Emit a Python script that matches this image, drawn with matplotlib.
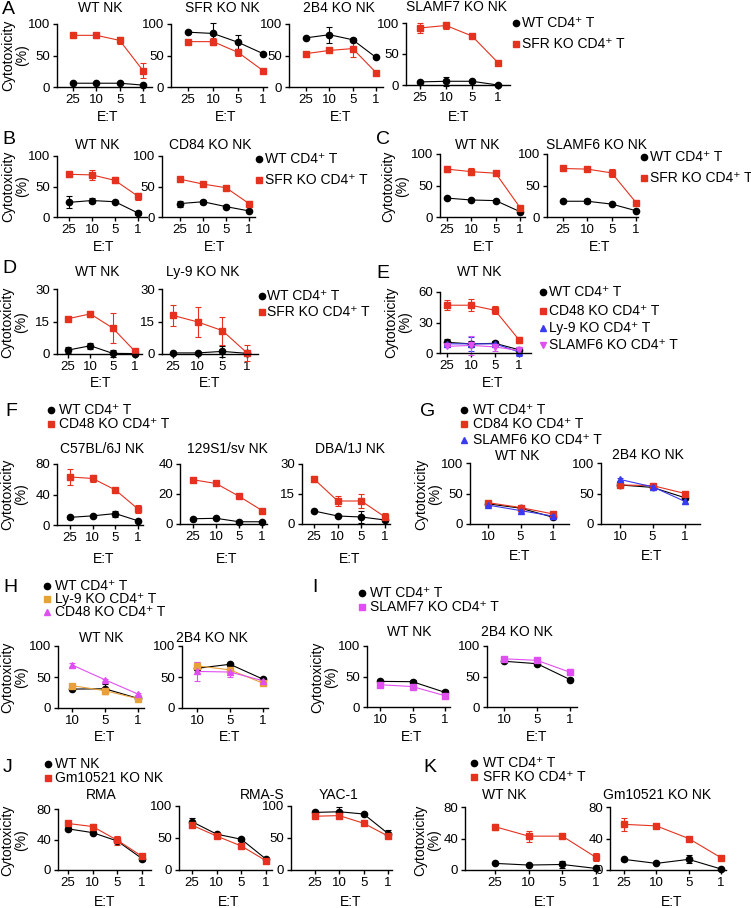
import matplotlib
matplotlib.use('Agg')
import matplotlib.pyplot as plt
from matplotlib.lines import Line2D

plt.rcParams['font.family'] = ['Liberation Sans', 'DejaVu Sans']

W, H = 751, 908

# E:T ratios
et4 = ['25', '10', '5', '1']
et3 = ['10', '5', '1']

# A
a_wt_wt, a_wt_wt_e = [6, 6, 6, 3], [1, 1, 1, 1]
a_wt_sfr, a_wt_sfr_e = [82, 82, 74, 26], [2, 4, 6, 12]
a_sfr_wt, a_sfr_wt_e = [87, 85, 71, 53], [1, 17, 11, 1]
a_sfr_sfr, a_sfr_sfr_e = [72, 72, 55, 26], [2, 5, 6, 1]
a_2b4_wt, a_2b4_wt_e = [78, 83, 75, 47], [1, 13, 2, 1]
a_2b4_sfr, a_2b4_sfr_e = [53, 58, 61, 23], [2, 2, 14, 1]
a_f7_wt, a_f7_wt_e = [5, 6, 6, 0], [2, 7, 2, 1]
a_f7_sfr, a_f7_sfr_e = [92, 96, 79, 36], [8, 6, 2, 2]
# B
b_wt_wt, b_wt_wt_e = [24, 27, 25, 6.5], [10, 4, 1.5, 4]
b_wt_sfr, b_wt_sfr_e = [70, 69, 60, 34], [4, 8, 5, 6]
b_84_wt, b_84_wt_e = [22, 25, 17, 10], [5, 3, 2, 1]
b_84_sfr, b_84_sfr_e = [62, 54, 48, 22], [2, 2, 2, 4]
# C
c_wt_wt, c_wt_wt_e = [30, 27, 26, 8.5], [1, 1, 1, 1]
c_wt_sfr, c_wt_sfr_e = [76, 72, 69.5, 15], [5, 5, 2, 3]
c_f6_wt, c_f6_wt_e = [25, 25, 20.5, 10], [1, 3, 1, 1]
c_f6_sfr, c_f6_sfr_e = [77, 76, 70, 23], [2, 2, 6, 3]
# D
d_wt_wt, d_wt_wt_e = [1.8, 3.8, 0.3, 0.2], [1.5, 1.5, 1.5, 0.3]
d_wt_sfr, d_wt_sfr_e = [16.3, 18.5, 12, 1.2], [0.5, 1.5, 7, 1]
d_ly9_wt, d_ly9_wt_e = [0.5, 0.5, 1.2, 0.3], [0.5, 0.5, 2.5, 0.3]
d_ly9_sfr, d_ly9_sfr_e = [17.8, 14.8, 10.8, 0.5], [5, 7, 6.5, 3.5]
# E
e_wt, e_wt_e = [10.5, 9, 9.5, 3.2], [3, 3, 2, 1]
e_cd48, e_cd48_e = [47, 47, 42, 13], [5, 6, 4, 3]
e_ly9, e_ly9_e = [9, 9, 9, 1], [1, 7, 1, 4]
e_f6, e_f6_e = [6.5, 7.5, 6, 2.5], [1, 9, 4, 1]
# F
f_c57_wt, f_c57_wt_e = [10, 12, 15, 5.5], [2, 1, 4, 1]
f_c57_cd48, f_c57_cd48_e = [63, 61, 46, 21], [11, 5, 2, 5]
f_129_wt, f_129_wt_e = [3.5, 3.8, 1.5, 1.5], [0.5, 0.5, 0.5, 0.5]
f_129_cd48, f_129_cd48_e = [29.5, 27, 18.5, 9], [0.5, 0.5, 0.5, 0.7]
f_dba_wt, f_dba_wt_e = [6.5, 4, 3.5, 2], [0.3, 0.5, 3, 0.5]
f_dba_cd48, f_dba_cd48_e = [22.5, 11.5, 11.5, 3.5], [1.5, 2.5, 3.5, 2]
# G
g_wt_wt, g_wt_wt_e = [33, 26, 11], [2, 2, 2]
g_wt_84, g_wt_84_e = [35, 27, 16.5], [2, 2, 2]
g_wt_f6, g_wt_f6_e = [31, 22, 13], [2, 2, 2]
g_2b4_wt, g_2b4_wt_e = [64, 60, 43], [2, 2, 2]
g_2b4_84, g_2b4_84_e = [64, 63, 50], [2, 2, 2]
g_2b4_f6, g_2b4_f6_e = [73, 61, 37], [2, 2, 4]
# H
h_wt_wt, h_wt_wt_e = [30.5, 31, 15.5], [2, 8, 2]
h_wt_ly9, h_wt_ly9_e = [36, 28, 15], [3, 5, 2]
h_wt_cd48, h_wt_cd48_e = [69.5, 45.5, 22.5], [3, 2, 2]
h_2b4_wt, h_2b4_wt_e = [64, 70.5, 46.5], [3, 2, 2]
h_2b4_ly9, h_2b4_ly9_e = [68, 61.5, 40], [7, 2, 2]
h_2b4_cd48, h_2b4_cd48_e = [59, 58, 44], [15, 8, 2]
# I
i_wt_wt, i_wt_wt_e = [42, 41.5, 24], [2, 2, 4]
i_wt_f7, i_wt_f7_e = [36.5, 33.5, 18.5], [1, 1, 2]
i_2b4_wt, i_2b4_wt_e = [75, 71, 45], [2, 2, 2]
i_2b4_f7, i_2b4_f7_e = [79, 76.5, 57], [2, 2, 5]
# J
j_rma_wt, j_rma_wt_e = [54, 49, 38, 15], [2, 2, 3, 3]
j_rma_ko, j_rma_ko_e = [61, 57, 39, 18], [3, 3, 6, 2]
j_rmas_wt, j_rmas_wt_e = [75.5, 56, 48, 17], [5, 2, 2, 2]
j_rmas_ko, j_rmas_ko_e = [70, 53, 37.5, 14.5], [2, 2, 2, 2]
j_yac_wt, j_yac_wt_e = [90, 91, 87.5, 57], [2, 7, 2, 5]
j_yac_ko, j_yac_ko_e = [84, 85, 73, 53], [2, 2, 2, 3]
# K
k_wt_wt, k_wt_wt_e = [8.4, 6.3, 7, 2], [1, 1, 5, 1]
k_wt_sfr, k_wt_sfr_e = [55, 43, 43, 16], [4, 7, 1, 5]
k_gm_wt, k_gm_wt_e = [13.5, 8.4, 13.5, 1.3], [2, 1, 5, 1]
k_gm_sfr, k_gm_sfr_e = [58, 56, 40, 15.6], [8, 2, 2, 2]

BLK = '#000000'
RED = '#e4321f'
BLUE = '#3a3af0'
MAG = '#e04ff0'
ORG = '#e8a03a'

fig = plt.figure(figsize=(W / 100, H / 100), dpi=100)
FS = 9.5


def fx(x):
    return x / W


def fy(y):
    return 1 - y / H


def panel(geom, cats, ymax, yticks, series, title, tpos):
    left, right, top, bottom, p0, pn = geom
    n = len(cats)
    ax = fig.add_axes([fx(left), fy(bottom), (right - left) / W, (bottom - top) / H])
    unit = (pn - p0) / (n - 1)
    ax.set_xlim(-(p0 - left) / unit, (n - 1) + (right - pn) / unit)
    ax.set_ylim(0, ymax)
    ax.set_yticks(yticks)
    ax.set_xticks(range(n))
    ax.set_xticklabels(cats)
    for s in ['top', 'right']:
        ax.spines[s].set_visible(False)
    for s in ['left', 'bottom']:
        ax.spines[s].set_linewidth(1.0)
    ax.tick_params(direction='out', length=3, width=1, labelsize=FS, pad=2)
    for vals, errs, color, marker in series:
        ax.errorbar(range(n), vals, yerr=errs, color=color, marker=marker, ms=4.5,
                    lw=0.8, elinewidth=0.8, capsize=2, capthick=0.8, clip_on=False)
    fig.text(fx(tpos[0]), fy(tpos[1]), title, ha='center', va='center', fontsize=FS + 0.5)
    return ax


def xlabel(x, y):
    fig.text(fx(x), fy(y), 'E:T', ha='center', va='center', fontsize=FS + 0.5)


def ylabel(x, y):
    fig.text(fx(x), fy(y), 'Cytotoxicity\n(%)', ha='center', va='center',
             rotation=90, fontsize=FS + 0.5, linespacing=0.95)


def letter(s, x, y):
    fig.text(fx(x), fy(y), s, ha='left', va='center', fontsize=14)


def legend(items, mx, ys, tx, fs=FS + 0.5):
    for (label, color, marker), y in zip(items, ys):
        fig.add_artist(Line2D([fx(mx)], [fy(y)], marker=marker, color=color, ms=4.5,
                              linestyle='none', transform=fig.transFigure))
        fig.text(fx(tx), fy(y), label, ha='left', va='center', fontsize=fs)


wt_t = 'WT CD4⁺ T'
sfr_t = 'SFR KO CD4⁺ T'

# ---- A
letter('A', 2, 10)
ylabel(15, 55)
panel((57, 152, 24, 87, 73, 143), et4, 100, [0, 50, 100],
      [(a_wt_wt, a_wt_wt_e, BLK, 'o'), (a_wt_sfr, a_wt_sfr_e, RED, 's')], 'WT NK', (100, 8))
panel((171, 267, 24, 87, 188, 263), et4, 100, [0, 50, 100],
      [(a_sfr_wt, a_sfr_wt_e, BLK, 'o'), (a_sfr_sfr, a_sfr_sfr_e, RED, 's')], 'SFR KO NK', (222, 8))
panel((289, 383, 24, 87, 306, 376), et4, 100, [0, 50, 100],
      [(a_2b4_wt, a_2b4_wt_e, BLK, 'o'), (a_2b4_sfr, a_2b4_sfr_e, RED, 's')], '2B4 KO NK', (339, 8))
panel((406, 510, 23, 85, 420, 498), et4, 100, [0, 50, 100],
      [(a_f7_wt, a_f7_wt_e, BLK, 'o'), (a_f7_sfr, a_f7_sfr_e, RED, 's')], 'SLAMF7 KO NK', (456, 7))
for x in [108, 226, 341, 459]:
    xlabel(x, 117)
legend([(wt_t, BLK, 'o'), (sfr_t, RED, 's')], 516, [23, 44], 522)

# ---- B
letter('B', 2, 140)
ylabel(15, 186)
panel((57, 147, 156, 217, 69, 138), et4, 100, [0, 50, 100],
      [(b_wt_wt, b_wt_wt_e, BLK, 'o'), (b_wt_sfr, b_wt_sfr_e, RED, 's')], 'WT NK', (97, 145))
panel((162, 255, 156, 217, 180, 249), et4, 100, [0, 50, 100],
      [(b_84_wt, b_84_wt_e, BLK, 'o'), (b_84_sfr, b_84_sfr_e, RED, 's')], 'CD84 KO NK', (210, 145))
xlabel(104, 247)
xlabel(215, 247)
legend([(wt_t, BLK, 'o'), (sfr_t, RED, 's')], 259, [159, 180], 265)

# ---- C
letter('C', 376, 140)
ylabel(395, 186)
panel((440, 525, 154, 217, 447, 520), et4, 100, [0, 50, 100],
      [(c_wt_wt, c_wt_wt_e, BLK, 'o'), (c_wt_sfr, c_wt_sfr_e, RED, 's')], 'WT NK', (477, 145))
panel((547, 638, 154, 217, 563, 636), et4, 100, [0, 50, 100],
      [(c_f6_wt, c_f6_wt_e, BLK, 'o'), (c_f6_sfr, c_f6_sfr_e, RED, 's')], 'SLAMF6 KO NK', (597, 145))
xlabel(484, 247)
xlabel(600, 247)
legend([(wt_t, BLK, 'o'), (sfr_t, RED, 's')], 644, [157, 178], 650)

# ---- D
letter('D', 2, 268)
ylabel(14, 322)
panel((57, 142, 289, 354, 68, 135), et4, 30, [0, 15, 30],
      [(d_wt_wt, d_wt_wt_e, BLK, 'o'), (d_wt_sfr, d_wt_sfr_e, RED, 's')], 'WT NK', (97, 272))
panel((162, 258, 289, 354, 173, 247), et4, 30, [0, 15, 30],
      [(d_ly9_wt, d_ly9_wt_e, BLK, 'o'), (d_ly9_sfr, d_ly9_sfr_e, RED, 's')], 'Ly-9 KO NK', (203, 272))
xlabel(101, 383)
xlabel(210, 383)
legend([(wt_t, BLK, 'o'), (sfr_t, RED, 's')], 262, [296, 312], 267)

# ---- E
letter('E', 376, 273)
ylabel(398, 322)
panel((440, 531, 292, 353, 447, 519), et4, 60, [0, 30, 60],
      [(e_wt, e_wt_e, BLK, 'o'), (e_cd48, e_cd48_e, RED, 's'),
       (e_ly9, e_ly9_e, BLUE, '^'), (e_f6, e_f6_e, MAG, 'v')], 'WT NK', (479, 272))
xlabel(493, 383)
legend([(wt_t, BLK, 'o'), ('CD48 KO CD4⁺ T', RED, 's'), ('Ly-9 KO CD4⁺ T', BLUE, '^'),
        ('SLAMF6 KO CD4⁺ T', MAG, 'v')], 543, [292, 311, 328, 345], 549)

# ---- F
letter('F', 5, 412)
ylabel(14, 494)
panel((57, 143, 464, 525, 70, 138), et4, 80, [0, 40, 80],
      [(f_c57_wt, f_c57_wt_e, BLK, 'o'), (f_c57_cd48, f_c57_cd48_e, RED, 's')], 'C57BL/6J NK', (102, 449))
panel((180, 267, 464, 524, 193, 262), et4, 40, [0, 20, 40],
      [(f_129_wt, f_129_wt_e, BLK, 'o'), (f_129_cd48, f_129_cd48_e, RED, 's')], '129S1/sv NK', (227, 449))
panel((302, 390, 464, 524, 314, 385), et4, 30, [0, 15, 30],
      [(f_dba_wt, f_dba_wt_e, BLK, 'o'), (f_dba_cd48, f_dba_cd48_e, RED, 's')], 'DBA/1J NK', (350, 449))
for x in [104, 227, 350]:
    xlabel(x, 559)
legend([(wt_t, BLK, 'o'), ('CD48 KO CD4⁺ T', RED, 's')], 51, [410, 424], 59)

# ---- G
letter('G', 420, 412)
ylabel(428, 494)
panel((470, 569, 463, 524, 488, 553), et3, 100, [0, 50, 100],
      [(g_wt_wt, g_wt_wt_e, BLK, 'o'), (g_wt_84, g_wt_84_e, RED, 's'),
       (g_wt_f6, g_wt_f6_e, BLUE, '^')], 'WT NK', (517, 456))
panel((601, 700, 463, 524, 620, 685), et3, 100, [0, 50, 100],
      [(g_2b4_wt, g_2b4_wt_e, BLK, 'o'), (g_2b4_84, g_2b4_84_e, RED, 's'),
       (g_2b4_f6, g_2b4_f6_e, BLUE, '^')], '2B4 KO NK', (648, 455))
xlabel(520, 556)
xlabel(652, 556)
legend([(wt_t, BLK, 'o'), ('CD84 KO CD4⁺ T', RED, 's'), ('SLAMF6 KO CD4⁺ T', BLUE, '^')],
       464, [410, 424, 440], 473)

# ---- H
letter('H', 3, 588)
ylabel(14, 677)
panel((58, 144, 646, 708, 72, 138), et3, 100, [0, 50, 100],
      [(h_wt_wt, h_wt_wt_e, BLK, 'o'), (h_wt_ly9, h_wt_ly9_e, ORG, 's'),
       (h_wt_cd48, h_wt_cd48_e, MAG, '^')], 'WT NK', (101, 638))
panel((182, 268, 646, 708, 197, 263), et3, 100, [0, 50, 100],
      [(h_2b4_wt, h_2b4_wt_e, BLK, 'o'), (h_2b4_ly9, h_2b4_ly9_e, ORG, 's'),
       (h_2b4_cd48, h_2b4_cd48_e, MAG, '^')], '2B4 KO NK', (212, 638))
xlabel(105, 737)
xlabel(230, 737)
legend([(wt_t, BLK, 'o'), ('Ly-9 KO CD4⁺ T', ORG, 's'), ('CD48 KO CD4⁺ T', MAG, '^')],
       47, [586, 599, 612], 55)

# ---- I
letter('I', 312, 588)
ylabel(324, 677)
panel((367, 450, 646, 707, 380, 445), et3, 100, [0, 50, 100],
      [(i_wt_wt, i_wt_wt_e, BLK, 'o'), (i_wt_f7, i_wt_f7_e, MAG, 's')], 'WT NK', (409, 632))
panel((487, 577, 646, 707, 504, 570), et3, 100, [0, 50, 100],
      [(i_2b4_wt, i_2b4_wt_e, BLK, 'o'), (i_2b4_f7, i_2b4_f7_e, MAG, 's')], '2B4 KO NK', (517, 632))
xlabel(412, 737)
xlabel(537, 737)
legend([(wt_t, BLK, 'o'), ('SLAMF7 KO CD4⁺ T', MAG, 's')], 362, [593, 607], 370)

# ---- J
letter('J', 3, 767)
ylabel(14, 840)
panel((58, 151, 809, 870, 68, 142), et4, 80, [0, 40, 80],
      [(j_rma_wt, j_rma_wt_e, BLK, 'o'), (j_rma_ko, j_rma_ko_e, RED, 's')], 'RMA', (101, 795))
panel((179, 272, 806, 870, 192, 266), et4, 100, [0, 50, 100],
      [(j_rmas_wt, j_rmas_wt_e, BLK, 'o'), (j_rmas_ko, j_rmas_ko_e, RED, 's')], 'RMA-S', (262, 795))
panel((291, 392, 806, 870, 315, 388), et4, 100, [0, 50, 100],
      [(j_yac_wt, j_yac_wt_e, BLK, 'o'), (j_yac_ko, j_yac_ko_e, RED, 's')], 'YAC-1', (339, 795))
for x in [105, 229, 351]:
    xlabel(x, 902)
legend([('WT NK', BLK, 'o'), ('Gm10521 KO NK', RED, 's')], 48, [764, 778], 55)

# ---- K
letter('K', 423, 767)
ylabel(427, 840)
panel((465, 600, 807, 870, 495, 596), et4, 80, [0, 40, 80],
      [(k_wt_wt, k_wt_wt_e, BLK, 'o'), (k_wt_sfr, k_wt_sfr_e, RED, 's')], 'WT NK', (504, 795))
panel((610, 726, 807, 870, 624, 721), et4, 80, [0, 40, 80],
      [(k_gm_wt, k_gm_wt_e, BLK, 'o'), (k_gm_sfr, k_gm_sfr_e, RED, 's')], 'Gm10521 KO NK', (657, 795))
xlabel(545, 902)
xlabel(672, 902)
legend([(wt_t, BLK, 'o'), (sfr_t, RED, 's')], 474, [763, 777], 483)

fig.savefig('out.png', dpi=100)
